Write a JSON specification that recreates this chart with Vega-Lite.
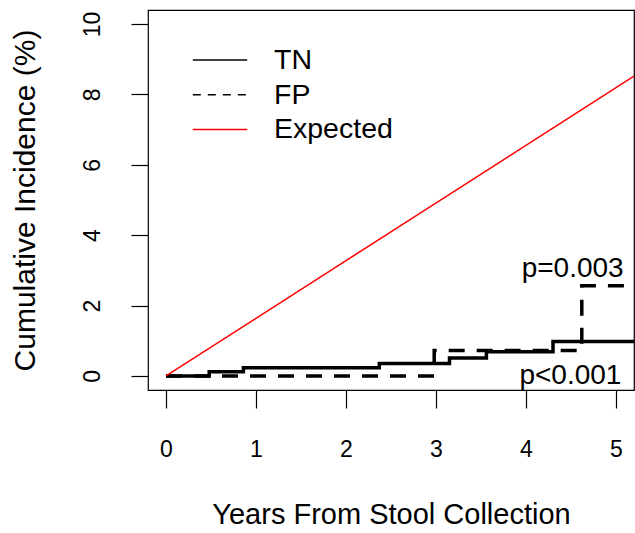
{
  "$schema": "https://vega.github.io/schema/vega-lite/v6.json",
  "width": 486,
  "height": 380,
  "autosize": {"type": "none"},
  "padding": {"left": 148, "top": 10, "right": 1, "bottom": 143},
  "config": {
    "font": "Liberation Sans",
    "view": {"stroke": "black", "strokeWidth": 1.2},
    "axis": {
      "domain": false, "grid": false, "tickColor": "black", "tickWidth": 1.2,
      "labelColor": "black", "titleColor": "black", "labelFontSize": 23,
      "titleFontSize": 29, "titleFontWeight": "normal",
      "labelFont": "Liberation Sans", "titleFont": "Liberation Sans",
      "labelFlush": false, "labelOverlap": false, "labelBound": false
    },
    "legend": {
      "orient": "none", "legendX": 44, "legendY": 34, "padding": 0,
      "symbolType": "stroke", "symbolSize": 2959, "symbolStrokeWidth": 1.5,
      "labelFontSize": 28.5, "labelFont": "Liberation Sans", "labelColor": "black",
      "labelOffset": 26, "clipHeight": 32, "rowPadding": 2.7, "labelLimit": 300
    }
  },
  "datasets": {
    "curves": [
      {"group": "TN", "years": 0, "incidence": 0},
      {"group": "TN", "years": 0.48, "incidence": 0.12},
      {"group": "TN", "years": 0.86, "incidence": 0.23},
      {"group": "TN", "years": 2.37, "incidence": 0.35},
      {"group": "TN", "years": 3.15, "incidence": 0.51},
      {"group": "TN", "years": 3.56, "incidence": 0.69},
      {"group": "TN", "years": 4.30, "incidence": 0.98},
      {"group": "TN", "years": 5.2, "incidence": 0.98},
      {"group": "FP", "years": 0, "incidence": 0},
      {"group": "FP", "years": 2.98, "incidence": 0.72},
      {"group": "FP", "years": 4.62, "incidence": 2.56},
      {"group": "FP", "years": 5.2, "incidence": 2.56}
    ],
    "expected": [
      {"group": "Expected", "years": 0, "incidence": 0},
      {"group": "Expected", "years": 5.2, "incidence": 8.52}
    ],
    "pvals": [
      {"label": "p=0.003", "years": 5.085, "incidence": 2.815},
      {"label": "p<0.001", "years": 5.06, "incidence": -0.22}
    ]
  },
  "layer": [
    {
      "data": {"name": "curves"},
      "transform": [{"filter": "datum.group === 'TN'"}],
      "mark": {"type": "line", "interpolate": "step-after", "strokeWidth": 3.5, "clip": true},
      "encoding": {
        "x": {
          "field": "years", "type": "quantitative",
          "scale": {"domain": [-0.2, 5.2], "nice": false, "zero": false},
          "axis": {
            "values": [0, 1, 2, 3, 4, 5], "format": "d", "tickSize": 18, "labelPadding": 30,
            "labelFontSize": 23,
            "title": "Years From Stool Collection", "titleX": 243, "titleY": 133,
            "titleBaseline": "alphabetic", "titleAlign": "center"
          }
        },
        "y": {
          "field": "incidence", "type": "quantitative",
          "scale": {"domain": [-0.4, 10.4], "nice": false, "zero": false},
          "axis": {
            "values": [0, 2, 4, 6, 8, 10], "format": "d", "tickSize": 17, "labelPadding": 27,
            "labelFontSize": 23,
            "labelAngle": 270, "labelAlign": "center", "labelBaseline": "bottom",
            "title": "Cumulative Incidence (%)", "titleFontSize": 30, "titleAngle": 270, "titleX": -114,
            "titleY": 190, "titleBaseline": "alphabetic", "titleAlign": "center"
          }
        },
        "color": {
          "field": "group", "type": "nominal",
          "scale": {"domain": ["TN", "FP", "Expected"], "range": ["black", "black", "#ff0000"]},
          "legend": {
            "title": null,
            "encode": {"symbols": {"update": {"strokeDash": {"signal": "datum.value === 'FP' ? [8, 7] : [1, 0]"}}}}
          }
        }
      }
    },
    {
      "data": {"name": "curves"},
      "transform": [{"filter": "datum.group === 'FP'"}],
      "mark": {"type": "line", "interpolate": "step-after", "strokeWidth": 3.5, "strokeDash": [16, 12], "clip": true},
      "encoding": {
        "x": {"field": "years", "type": "quantitative"},
        "y": {"field": "incidence", "type": "quantitative"},
        "color": {"field": "group", "type": "nominal"}
      }
    },
    {
      "data": {"name": "expected"},
      "mark": {"type": "line", "strokeWidth": 1.5, "clip": true},
      "encoding": {
        "x": {"field": "years", "type": "quantitative"},
        "y": {"field": "incidence", "type": "quantitative"},
        "color": {"field": "group", "type": "nominal"}
      }
    },
    {
      "data": {"name": "pvals"},
      "mark": {"type": "text", "align": "right", "baseline": "alphabetic", "fontSize": 28, "color": "black"},
      "encoding": {
        "x": {"field": "years", "type": "quantitative"},
        "y": {"field": "incidence", "type": "quantitative"},
        "text": {"field": "label"}
      }
    }
  ]
}
